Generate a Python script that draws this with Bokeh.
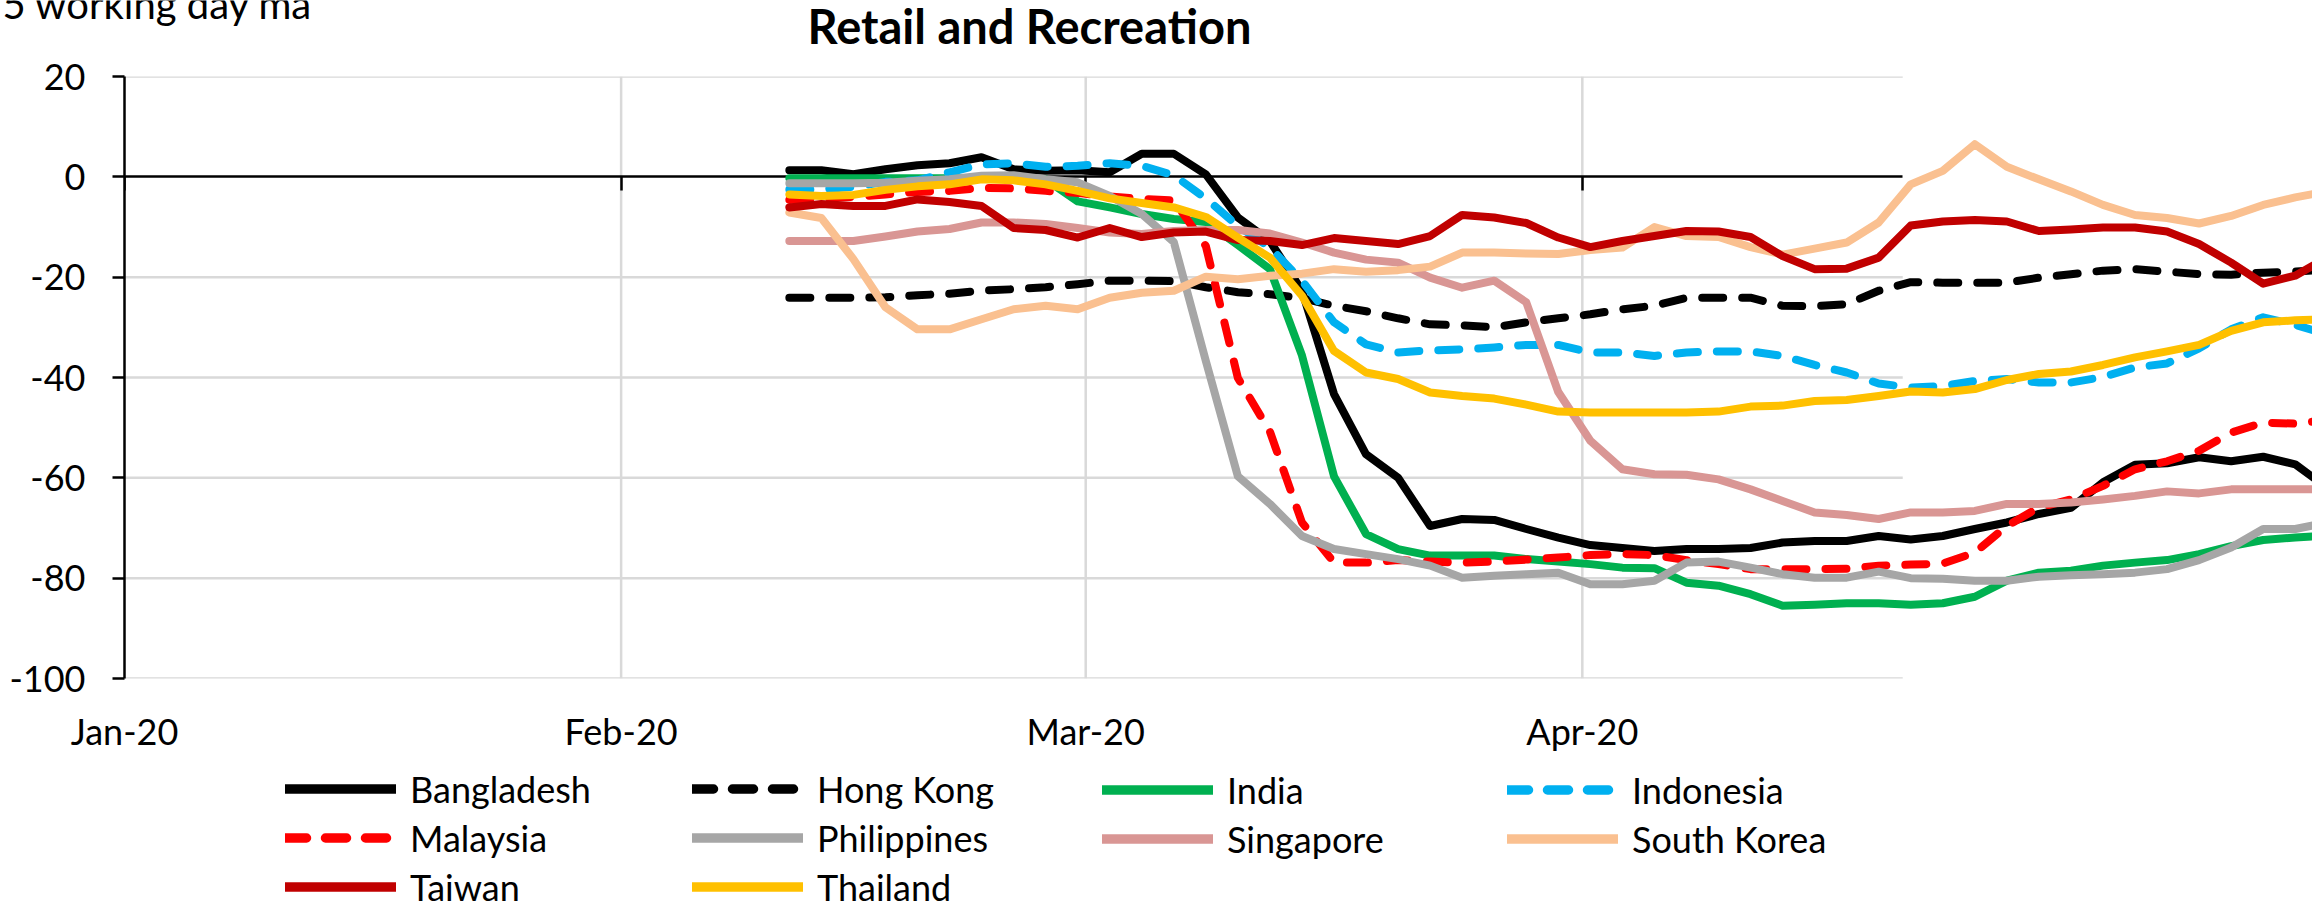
import pandas as pd
from bokeh.plotting import figure
from bokeh.layouts import column
from bokeh.models import (Range1d, FixedTicker, DatetimeAxis, DatetimeTickFormatter,
                          Label, Legend, LegendItem)
from bokeh.embed import file_html
from bokeh.resources import INLINE

# ---------------- data ----------------
START_DAY = "2020-02-11"   # first observation
STEP = "2D"                # one reading every second day
N_POINTS = 49

bangladesh = [1.3, 1.3, 0.5, 1.5, 2.3, 2.7, 3.9, 1.5, 1.2, 1.3, 0.9, 4.6, 4.6, 0.5, -8.1, -12.8,
              -22.7, -43.3, -55.3, -60.0, -69.6, -68.2, -68.4, -70.2, -71.9, -73.4, -74.0, -74.6,
              -74.2, -74.2, -74.0, -72.9, -72.6, -72.6, -71.6, -72.3, -71.6, -70.2, -68.9, -67.2,
              -66.0, -60.9, -57.4, -57.1, -55.9, -56.7, -55.8, -57.3, -62.0]
hong_kong = [-24.1, -24.1, -24.1, -24.0, -23.6, -23.3, -22.7, -22.4, -22.0, -21.4, -20.7, -20.7,
             -20.8, -22.0, -23.0, -23.4, -24.2, -25.7, -26.8, -28.2, -29.4, -29.6, -30.0, -29.0,
             -28.2, -27.4, -26.4, -25.7, -24.1, -24.1, -24.1, -25.7, -25.8, -25.4, -22.7, -21.0,
             -21.1, -21.1, -21.1, -20.1, -19.4, -18.7, -18.4, -18.9, -19.4, -19.5, -19.1, -18.9, -18.5]
india = [-0.3, -0.3, -0.3, -0.3, -0.3, -0.3, -0.3, -0.3, -0.5, -4.9, -6.1, -7.4, -8.4, -9.0,
         -13.6, -18.4, -35.6, -59.7, -71.2, -74.2, -75.5, -75.5, -75.5, -76.2, -76.7, -77.2,
         -77.9, -78.0, -80.9, -81.5, -83.2, -85.5, -85.3, -85.0, -85.0, -85.3, -85.0, -83.7,
         -80.5, -78.9, -78.5, -77.5, -76.9, -76.4, -75.2, -73.6, -72.4, -71.9, -71.5]
indonesia = [-2.5, -2.5, -2.0, -1.0, -0.7, 0.9, 2.5, 2.7, 2.0, 2.2, 2.7, 2.2, 0.3, -4.3, -9.8,
             -14.1, -20.7, -29.0, -33.4, -35.0, -34.6, -34.4, -34.0, -33.5, -33.5, -35.0, -35.0,
             -35.7, -35.0, -34.8, -34.8, -35.7, -37.5, -39.0, -41.2, -42.0, -41.7, -40.7, -40.3,
             -41.0, -41.0, -39.9, -38.0, -37.2, -34.2, -30.4, -28.0, -29.5, -31.4]
malaysia = [-4.6, -4.3, -4.0, -3.5, -3.0, -2.8, -2.2, -2.3, -2.8, -3.2, -3.9, -4.4, -4.7, -13.8,
            -40.1, -50.8, -68.9, -76.9, -76.9, -76.4, -76.7, -76.9, -76.7, -76.3, -75.9, -75.4,
            -75.2, -75.4, -76.4, -77.2, -78.2, -78.2, -78.2, -78.1, -77.5, -77.3, -77.1, -74.9,
            -69.6, -65.9, -64.3, -61.6, -58.3, -56.7, -54.6, -51.0, -49.0, -49.2, -48.5]
philippines = [-1.3, -1.3, -1.3, -1.2, -0.8, -0.5, 0.2, 0.3, -0.5, -1.1, -3.8, -7.4, -13.0,
               -36.7, -59.7, -65.2, -71.6, -74.2, -75.2, -76.2, -77.5, -79.9, -79.5, -79.2,
               -78.9, -81.2, -81.2, -80.5, -76.9, -76.7, -77.9, -79.2, -79.9, -79.9, -78.7,
               -80.0, -80.1, -80.5, -80.5, -79.7, -79.4, -79.2, -78.9, -78.2, -76.4, -73.9,
               -70.2, -70.2, -68.9]
singapore = [-12.8, -12.8, -12.8, -11.9, -10.9, -10.4, -9.1, -9.1, -9.4, -10.2, -11.1, -11.4,
             -10.8, -10.6, -10.6, -11.3, -13.1, -15.1, -16.5, -17.1, -20.1, -22.1, -20.7, -25.0,
             -42.9, -52.6, -58.3, -59.3, -59.4, -60.3, -62.3, -64.6, -66.9, -67.4, -68.2, -66.9,
             -66.9, -66.6, -65.2, -65.2, -64.9, -64.3, -63.6, -62.7, -63.1, -62.3, -62.3, -62.3, -62.3]
south_korea = [-7.1, -8.2, -16.4, -26.0, -30.4, -30.4, -28.4, -26.4, -25.7, -26.4, -24.1, -23.1,
               -22.7, -19.9, -20.4, -19.7, -19.3, -18.4, -18.9, -18.6, -17.9, -15.1, -15.1, -15.3,
               -15.4, -14.6, -14.1, -10.0, -11.8, -12.0, -14.0, -15.5, -14.3, -13.1, -9.1, -1.5,
               1.2, 6.5, 2.0, -0.5, -2.9, -5.6, -7.6, -8.2, -9.3, -7.8, -5.6, -4.1, -2.9]
taiwan = [-6.1, -5.4, -5.8, -5.8, -4.5, -5.0, -5.8, -10.2, -10.6, -12.1, -10.2, -12.0, -11.1,
          -10.9, -12.6, -12.8, -13.6, -12.2, -12.8, -13.4, -11.8, -7.6, -8.1, -9.2, -12.1, -14.0,
          -12.8, -11.8, -10.8, -10.9, -12.0, -15.8, -18.4, -18.3, -16.1, -9.7, -8.9, -8.6, -8.9,
          -10.8, -10.5, -10.1, -10.1, -10.9, -13.4, -17.1, -21.3, -19.7, -16.1]
thailand = [-3.5, -3.8, -3.6, -2.6, -1.9, -1.5, -0.5, -0.7, -1.5, -2.8, -4.3, -5.2, -6.1, -8.0,
            -12.1, -16.1, -23.7, -34.7, -39.0, -40.3, -43.0, -43.7, -44.2, -45.4, -46.8, -47.0,
            -47.0, -47.0, -47.0, -46.8, -45.8, -45.6, -44.7, -44.5, -43.7, -42.8, -43.0, -42.3,
            -40.5, -39.3, -38.8, -37.5, -36.0, -34.8, -33.5, -30.7, -29.0, -28.6, -28.4]

NAMES = ["Bangladesh", "Hong Kong", "India", "Indonesia", "Malaysia",
         "Philippines", "Singapore", "South Korea", "Taiwan", "Thailand"]
VALUES = [bangladesh, hong_kong, india, indonesia, malaysia,
          philippines, singapore, south_korea, taiwan, thailand]
COLORS = ["#000000", "#000000", "#00B050", "#00B0F0", "#FF0000",
          "#A6A6A6", "#D99694", "#FAC090", "#C00000", "#FFC000"]
DASHED = [False, True, False, True, True, False, False, False, False, False]

Y_TICKS = [20, 0, -20, -40, -60, -80, -100]
MONTH_TICKS = ["2020-01-01", "2020-02-01", "2020-03-01", "2020-04-01"]
AXIS_MIN = "2020-01-01"
AXIS_MAX = "2020-04-21"

TITLE = "Retail and Recreation"
Y_TITLE = "5 working day ma"

# ---------------- style / layout ----------------
FONT = "Lato"
FS = "36px"
W = 2312
HEAD_H, MAIN_H, FOOT_H = 54, 706, 142
FRAME_LEFT, FRAME_TOP, FRAME_H = 124, 22, 602
PX_PER_DAY = 16.02
VIEW_DAYS = (W - FRAME_LEFT) / PX_PER_DAY
LW = 8
LW_KEY = 9.5
GRID_COLOR = "#D9D9D9"
DASH = "21 19"


def blank_figure(height):
    f = figure(width=W, height=height, output_backend="svg", toolbar_location=None, title=None,
               x_range=Range1d(0, W), y_range=Range1d(height, 0),
               x_axis_location=None, y_axis_location=None,
               min_border=0, min_border_left=0, min_border_right=0,
               min_border_top=0, min_border_bottom=0)
    f.frame_align = False
    f.outline_line_color = None
    f.grid.visible = False
    return f


# ---------------- main chart ----------------
dates = pd.date_range(START_DAY, periods=N_POINTS, freq=STEP) + pd.Timedelta(hours=12)
t0 = pd.Timestamp(AXIS_MIN)
t_axis_max = pd.Timestamp(AXIS_MAX)
month_ts = [pd.Timestamp(m) for m in MONTH_TICKS]
month_ms = [m.value / 1e6 for m in month_ts]

p = figure(width=W, height=MAIN_H, output_backend="svg", toolbar_location=None, title=None,
           x_axis_type="datetime",
           x_range=Range1d(t0, t0 + pd.Timedelta(days=VIEW_DAYS)),
           y_range=Range1d(min(Y_TICKS), max(Y_TICKS)),
           min_border_left=FRAME_LEFT, min_border_right=0, min_border_top=FRAME_TOP,
           min_border_bottom=MAIN_H - FRAME_TOP - FRAME_H)
p.frame_align = False
p.outline_line_color = None
p.grid.visible = False

ya = p.yaxis[0]
ya.ticker = FixedTicker(ticks=Y_TICKS)
ya.major_label_overrides = {v: str(v) for v in Y_TICKS}
ya.axis_line_color = "black"
ya.axis_line_width = 2.5
ya.major_tick_line_color = "black"
ya.major_tick_line_width = 2.5
ya.major_tick_out = 12
ya.major_tick_in = 0
ya.minor_tick_line_color = None
ya.major_label_standoff = 27
ya.major_label_text_font = FONT
ya.major_label_text_font_size = FS
ya.major_label_text_color = "black"

xa = p.xaxis[0]
xa.ticker = FixedTicker(ticks=month_ms)
fmt = "%b-%y"
xa.formatter = DatetimeTickFormatter(days=fmt, months=fmt, years=fmt, hours=fmt,
                                     minutes=fmt, seconds=fmt, milliseconds=fmt,
                                     microseconds=fmt, context=None)
xa.axis_line_color = None
xa.major_tick_line_color = None
xa.minor_tick_line_color = None
xa.major_tick_out = 0
xa.major_tick_in = 0
xa.major_label_standoff = 30
xa.major_label_text_font = FONT
xa.major_label_text_font_size = FS
xa.major_label_text_color = "black"

# gridlines limited to the Excel plot area
h_levels = [v for v in Y_TICKS if v != 0]
p.segment(x0=[t0] * len(h_levels), x1=[t_axis_max] * len(h_levels), y0=h_levels, y1=h_levels,
          line_color=GRID_COLOR, line_width=2.5, level="image")
v_months = month_ts[1:]
p.segment(x0=v_months, x1=v_months, y0=[min(Y_TICKS)] * len(v_months),
          y1=[max(Y_TICKS)] * len(v_months), line_color=GRID_COLOR, line_width=2.5, level="image")

# zero line (category axis crossing at 0) with month tick marks pointing down
za = DatetimeAxis(fixed_location=0, bounds=(t0, t_axis_max), ticker=FixedTicker(ticks=month_ms))
za.axis_line_color = "black"
za.axis_line_width = 2.5
za.major_tick_line_color = "black"
za.major_tick_line_width = 2.5
za.major_tick_out = 0
za.major_tick_in = 14
za.minor_tick_line_color = None
za.major_label_text_alpha = 0
za.major_label_text_font_size = "1px"
za.major_label_standoff = 0
za.level = "underlay"
p.add_layout(za, "above")

for vals, col, dashed in zip(VALUES, COLORS, DASHED):
    p.line(x=dates, y=vals, line_color=col, line_width=LW,
           line_cap="round", line_join="round", line_dash=DASH if dashed else "solid")

# ---------------- header (titles) ----------------
head = blank_figure(HEAD_H)
head.add_layout(Label(x=2, y=3, text=Y_TITLE, text_font=FONT, text_font_size="40px",
                      text_align="left", text_baseline="alphabetic", text_color="black"))
head.add_layout(Label(x=1029, y=25, text=TITLE, text_font=FONT, text_font_size="47px",
                      text_font_style="bold", text_align="center",
                      text_baseline="alphabetic", text_color="black"))

# ---------------- footer (legend) ----------------
foot = blank_figure(FOOT_H)
nan = float("nan")
proxies = []
for col, dashed in zip(COLORS, DASHED):
    # legend key samples only (no visible data)
    proxies.append(foot.line(x=[nan, nan], y=[nan, nan], line_color=col, line_width=LW_KEY,
                             line_cap="round", line_join="round",
                             line_dash=DASH if dashed else "solid"))

NCOLS = 4
COL_X = [285, 692, 1102, 1507]
ITEM_H, LEG_SP, LEG_TOP = 43, 5, 9.5
for c in range(NCOLS):
    idx = list(range(c, len(NAMES), NCOLS))
    n = len(idx)
    leg_h = n * ITEM_H + (n - 1) * LEG_SP
    vy = FOOT_H - (LEG_TOP + leg_h)
    leg = Legend(items=[LegendItem(label=NAMES[i], renderers=[proxies[i]]) for i in idx],
                 location=(COL_X[c], vy), orientation="vertical",
                 glyph_width=111, glyph_height=ITEM_H, label_height=ITEM_H,
                 label_standoff=14, spacing=LEG_SP, padding=0, margin=0,
                 border_line_color=None, background_fill_alpha=0,
                 label_text_font=FONT, label_text_font_size=FS, label_text_color="black")
    foot.add_layout(leg)

layout = column(head, p, foot, spacing=0)
open("out.html", "w").write(file_html(layout, INLINE))
